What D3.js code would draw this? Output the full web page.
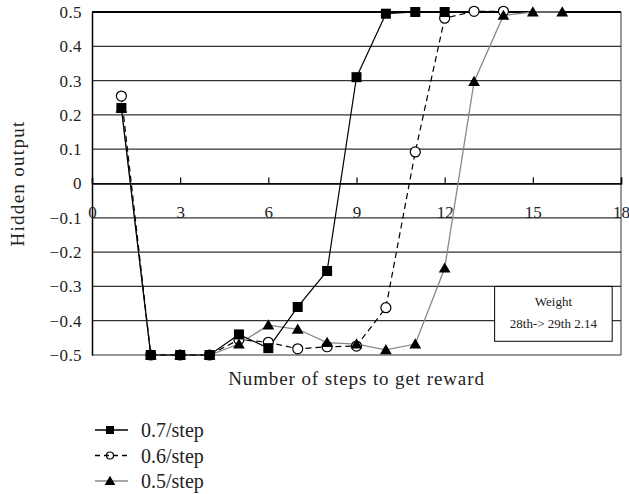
<!DOCTYPE html>
<html>
<head>
<meta charset="utf-8">
<script src="https://cdn.jsdelivr.net/npm/d3@7"></script>
<style>
  body { margin: 0; background: #fff; }
  svg { display: block; font-family: "Liberation Serif", "DejaVu Serif", serif; }
</style>
</head>
<body>
<div id="chart"></div>
<script>
// data
const steps07 = [1, 2, 3, 4, 5, 6, 7, 8, 9, 10, 11, 12];
const vals07 = [0.22, -0.5, -0.5, -0.5, -0.44, -0.48, -0.36, -0.255, 0.31, 0.495, 0.5, 0.5];
const steps06 = [1, 2, 3, 4, 5, 6, 7, 8, 9, 10, 11, 12, 13, 14];
const vals06 = [0.255, -0.5, -0.5, -0.5, -0.455, -0.463, -0.482, -0.476, -0.474, -0.362, 0.092, 0.482, 0.502, 0.502];
const steps05 = [1, 2, 3, 4, 5, 6, 7, 8, 9, 10, 11, 12, 13, 14, 15, 16];
const vals05 = [0.22, -0.5, -0.5, -0.5, -0.468, -0.413, -0.425, -0.464, -0.468, -0.485, -0.468, -0.247, 0.297, 0.49, 0.5, 0.5];
const xTicks = [0, 3, 6, 9, 12, 15, 18];
const yTicks = [-0.5, -0.4, -0.3, -0.2, -0.1, 0, 0.1, 0.2, 0.3, 0.4, 0.5];
const seriesNames = ["0.7/step", "0.6/step", "0.5/step"];

const width = 629;
const height = 494;
const marginLeft = 92;
const marginRight = 8;
const marginTop = 12;
const plotBottom = 355;

const x = d3.scaleLinear().domain([0, 18]).range([marginLeft, width - marginRight]);
const y = d3.scaleLinear().domain([-0.5, 0.5]).range([plotBottom, marginTop]);

const svg = d3.select("#chart")
    .append("svg")
    .attr("width", width)
    .attr("height", height);

// horizontal grid lines
svg.append("g")
    .selectAll("line")
    .data(yTicks)
    .enter()
    .append("line")
    .attr("x1", x(0))
    .attr("x2", x(18))
    .attr("y1", d => y(d))
    .attr("y2", d => y(d))
    .attr("stroke", d => d === 0.5 ? "#000" : "#333")
    .attr("stroke-width", d => d === 0.5 ? 2 : 1.2);

// right border
svg.append("line")
    .attr("x1", x(18)).attr("x2", x(18))
    .attr("y1", y(0.5)).attr("y2", y(-0.5))
    .attr("stroke", "#333")
    .attr("stroke-width", 1);

// y axis
const yAxis = svg.append("g")
    .attr("transform", `translate(${x(0)},0)`)
    .call(d3.axisLeft(y).tickValues(yTicks).tickSize(0).tickPadding(10)
        .tickFormat(d => d === 0 ? "0" : d3.format(".1f")(d).replace("-", "\u2212")));
yAxis.select(".domain").attr("stroke", "#000").attr("stroke-width", 1.5);
yAxis.selectAll("text")
    .style("font-size", "17px")
    .style("font-family", "Liberation Serif, serif")
    .style("letter-spacing", "0.4px")
    .attr("fill", "#222");

// x axis sits on the zero line, ticks pointing up, labels below
const xAxis = svg.append("g")
    .attr("transform", `translate(0,${y(0)})`)
    .call(d3.axisTop(x).tickValues(xTicks).tickSize(6).tickFormat(d3.format("d")));
xAxis.select(".domain").attr("stroke", "#000").attr("stroke-width", 1.5);
xAxis.selectAll("line").attr("stroke", "#000").attr("stroke-width", 1.2);
xAxis.selectAll("text")
    .attr("y", 34)
    .style("font-size", "17px")
    .style("font-family", "Liberation Serif, serif")
    .attr("fill", "#222");

// axis titles
svg.append("text")
    .attr("transform", `translate(24,${y(0)}) rotate(-90)`)
    .attr("text-anchor", "middle")
    .style("font-size", "19px")
    .style("letter-spacing", "1.3px")
    .attr("fill", "#222")
    .text("Hidden output");

svg.append("text")
    .attr("x", (x(0) + x(18)) / 2)
    .attr("y", 385)
    .attr("text-anchor", "middle")
    .style("font-size", "19px")
    .style("letter-spacing", "0.9px")
    .attr("fill", "#222")
    .text("Number of steps to get reward");

// weight box
const boxX = x(13.7), boxY = y(-0.3), boxW = x(17.7) - x(13.7), boxH = y(-0.46) - y(-0.3);
svg.append("rect")
    .attr("x", boxX).attr("y", boxY)
    .attr("width", boxW).attr("height", boxH)
    .attr("fill", "#fff")
    .attr("stroke", "#000")
    .attr("stroke-width", 1);
svg.append("text")
    .attr("x", boxX + boxW / 2).attr("y", boxY + 20)
    .attr("text-anchor", "middle")
    .style("font-size", "13px")
    .attr("fill", "#222")
    .text("Weight");
svg.append("text")
    .attr("x", boxX + boxW / 2).attr("y", boxY + 42)
    .attr("text-anchor", "middle")
    .style("font-size", "13px")
    .attr("fill", "#222")
    .text("28th-> 29th 2.14");

const line = d3.line().x(d => x(d[0])).y(d => y(d[1]));
const pts = (s, v) => s.map((d, i) => [d, v[i]]);
const data07 = pts(steps07, vals07);
const data06 = pts(steps06, vals06);
const data05 = pts(steps05, vals05);

// lines
svg.append("path").datum(data05).attr("d", line)
    .attr("fill", "none").attr("stroke", "#888").attr("stroke-width", 1.3);
svg.append("path").datum(data06).attr("d", line)
    .attr("fill", "none").attr("stroke", "#000").attr("stroke-width", 1.2)
    .attr("stroke-dasharray", "6,4");
svg.append("path").datum(data07).attr("d", line)
    .attr("fill", "none").attr("stroke", "#000").attr("stroke-width", 1.2);

// markers
function drawMarker(g, kind, cx, cy, big) {
    const s = big ? 1 : 0.8;
    if (kind === "square") {
        g.append("rect")
            .attr("x", cx - 5 * s).attr("y", cy - 5 * s)
            .attr("width", 10 * s).attr("height", 10 * s)
            .attr("fill", "#000");
    } else if (kind === "circle") {
        g.append("circle")
            .attr("cx", cx).attr("cy", cy).attr("r", big ? 5 : 3.5)
            .attr("fill", big ? "#fff" : "none").attr("stroke", "#000").attr("stroke-width", 1.2);
    } else {
        g.append("path")
            .attr("d", d3.symbol(d3.symbolTriangle, big ? 60 : 50)())
            .attr("transform", `translate(${cx},${cy + 1})`)
            .attr("fill", "#000");
    }
}

const markers = svg.append("g");
data06.forEach(d => drawMarker(markers, "circle", x(d[0]), y(d[1]), true));
data07.forEach(d => drawMarker(markers, "square", x(d[0]), y(d[1]), true));
data05.forEach(d => drawMarker(markers, "triangle", x(d[0]), y(d[1]), true));

// legend
const legendRows = [
    { name: seriesNames[0], kind: "square", stroke: "#000", dash: null },
    { name: seriesNames[1], kind: "circle", stroke: "#000", dash: "5,4" },
    { name: seriesNames[2], kind: "triangle", stroke: "#888", dash: null }
];
const legend = svg.append("g");
legendRows.forEach((r, i) => {
    const ly = 430 + i * 25.5;
    legend.append("line")
        .attr("x1", 95).attr("x2", 128)
        .attr("y1", ly).attr("y2", ly)
        .attr("stroke", r.stroke)
        .attr("stroke-width", 1.3)
        .attr("stroke-dasharray", r.dash);
    drawMarker(legend, r.kind, 110, ly, false);
    legend.append("text")
        .attr("x", 141).attr("y", ly + 7)
        .style("font-size", "20px")
        .attr("fill", "#222")
        .text(r.name);
});
</script>
</body>
</html>
